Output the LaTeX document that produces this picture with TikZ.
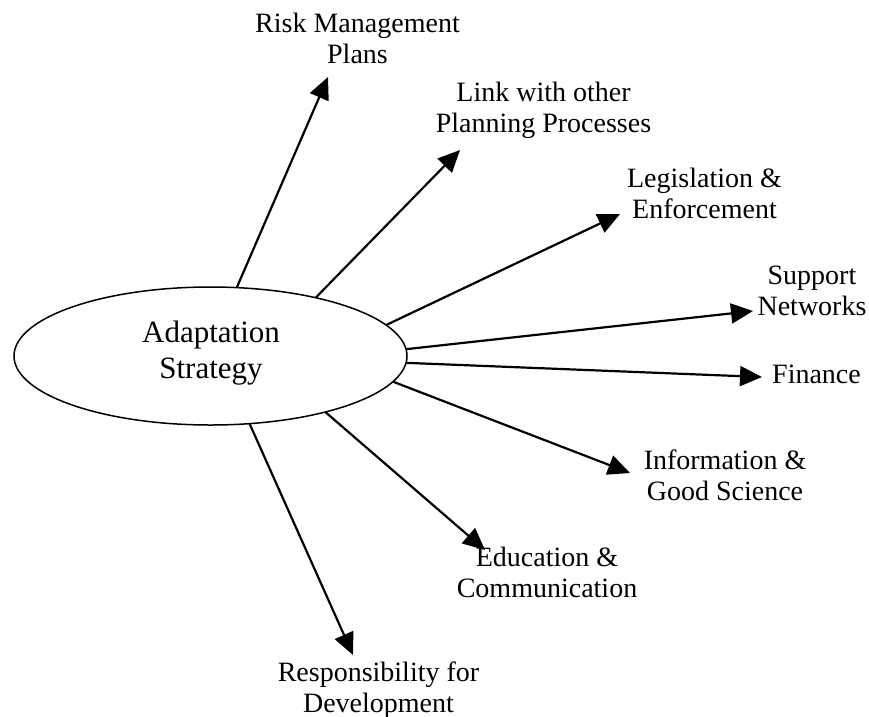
\documentclass[tikz,border=0pt]{standalone}
\usepackage{fontspec}
\setmainfont{Liberation Serif}
\usetikzlibrary{arrows.meta,shapes.geometric}
\begin{document}
\begin{tikzpicture}[x=1pt,y=-1pt,
  hub/.style={draw,ellipse,line width=1.5pt,minimum width=393pt,minimum height=138pt,inner sep=0pt,outer sep=0pt},
  label/.style={align=center,anchor=base,inner sep=0pt,font=\fontsize{28}{30.5}\selectfont},
  spoke/.style={line width=2.2pt,-{Triangle[length=22pt,width=20pt]}}]
\useasboundingbox (0,0) rectangle (869,716);
% central ellipse (labels are anchored at the baseline of their last line)
\node[hub] (ell) at (210.5,356) {};
\node[align=center,anchor=base,inner sep=0pt,font=\fontsize{31}{36}\selectfont] (title) at (211,378) {Adaptation\\Strategy};
% outer labels
\node[label] (risk) at (357.5,63) {Risk Management\\Plans};
\node[label] (link) at (543.5,132) {Link with other\\Planning Processes};
\node[label] (legis) at (704.5,218) {Legislation \&\\Enforcement};
\node[label] (supp) at (812,315) {Support\\Networks};
\node[label] (fin) at (816.5,383) {Finance};
\node[label] (info) at (725,500) {Information \&\\Good Science};
\node[label] (edu) at (547,597) {Education \&\\Communication};
\node[label] (resp) at (378.5,712) {Responsibility for\\Development};
% arrow tips
\coordinate (tRisk) at (328,77);
\coordinate (tLink) at (460,150);
\coordinate (tLegis) at (620,214);
\coordinate (tSupp) at (753,311);
\coordinate (tFin) at (762,377);
\coordinate (tInfo) at (630,473);
\coordinate (tEdu) at (485,550);
\coordinate (tResp) at (353,655);
% spokes
\draw[spoke] (ell.69.8) -- (tRisk);
\draw[spoke] (ell.29.5) -- (tLink);
\draw[spoke] (ell.10.5) -- (tLegis);
\draw[spoke] (ell.2) -- (tSupp);
\draw[spoke] (ell.-2.3) -- (tFin);
\draw[spoke] (ell.-8.8) -- (tInfo);
\draw[spoke] (ell.-26.1) -- (tEdu);
\draw[spoke] (ell.-60.7) -- (tResp);
\end{tikzpicture}
\end{document}
